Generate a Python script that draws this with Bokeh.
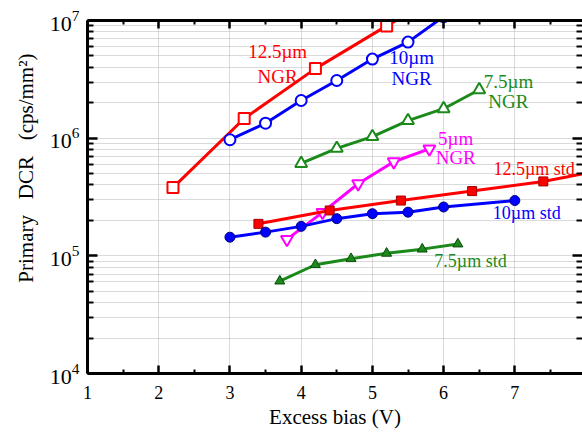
from bokeh.plotting import figure
from bokeh.models import LinearAxis, LogAxis, FixedTicker, Label
from bokeh.embed import file_html
from bokeh.resources import INLINE

# ---------------- data ----------------
x_ngr125 = [2.2, 3.2, 4.2, 5.2, 6.2]
y_ngr125 = [3.8e5, 1.47e6, 3.9e6, 9.0e6, 2.0e7]

x_ngr10 = [3.0, 3.5, 4.0, 4.5, 5.0, 5.5, 6.0]
y_ngr10 = [9.7e5, 1.34e6, 2.09e6, 3.09e6, 4.7e6, 6.55e6, 1.08e7]

x_ngr75 = [4.0, 4.5, 5.0, 5.5, 6.0, 6.5]
y_ngr75 = [6.1e5, 8.2e5, 1.03e6, 1.41e6, 1.78e6, 2.58e6]

x_ngr5 = [3.8, 4.3, 4.8, 5.3, 5.8]
y_ngr5 = [1.38e5, 2.34e5, 4.1e5, 6.3e5, 8.1e5]

x_std125 = [3.4, 4.4, 5.4, 6.4, 7.4, 8.4]
y_std125 = [1.87e5, 2.43e5, 2.95e5, 3.55e5, 4.29e5, 5.6e5]

x_std10 = [3.0, 3.5, 4.0, 4.5, 5.0, 5.5, 6.0, 7.0]
y_std10 = [1.44e5, 1.59e5, 1.78e5, 2.07e5, 2.28e5, 2.35e5, 2.6e5, 2.95e5]

x_std75 = [3.7, 4.2, 4.7, 5.2, 5.7, 6.2]
y_std75 = [6.1e4, 8.4e4, 9.45e4, 1.05e5, 1.14e5, 1.26e5]

x_ticks = [1, 2, 3, 4, 5, 6, 7, 8]
y_ticks = [1e4, 1e5, 1e6, 1e7]

label_text = ["12.5µm", "NGR", "10µm", "NGR", "7.5µm", "NGR", "5µm", "NGR",
              "12.5µm std", "10µm std", "7.5µm std"]
label_x = [3.67, 3.67, 5.55, 5.55, 6.91, 6.91, 6.17, 6.17, 6.70, 6.69, 5.87]
label_y = [5.4e6, 3.35e6, 4.85e6, 3.21e6, 3.03e6, 2.05e6, 9.9e5, 6.86e5, 5.42e5, 2.29e5, 9.1e4]

RED = "#ff0000"
BLUE = "#0000ff"
GREEN = "#1b8a1b"
MAGENTA = "#ff00ff"
label_color = [RED, RED, BLUE, BLUE, GREEN, GREEN, MAGENTA, MAGENTA, RED, BLUE, GREEN]
label_align = ["center"] * 8 + ["left"] * 3
label_size = ["19px"] * 8 + ["18px"] * 3

FONT = "Liberation Serif"

p = figure(width=582, height=432, output_backend="svg", toolbar_location=None,
           x_range=(1, 7.95), y_range=(1e4, 1e7), y_axis_type="log",
           min_border_left=87, min_border_right=0, min_border_top=20, min_border_bottom=59)
p.outline_line_color = None
p.background_fill_color = "white"

x_minor = [t + 0.5 for t in x_ticks]
y_minor = [d * k for d in y_ticks[:-1] for k in range(2, 10)]

# extra axes (top/right)
p.add_layout(LinearAxis(), "above")
p.add_layout(LogAxis(), "right")

for ax in p.xaxis:
    ax.ticker = FixedTicker(ticks=x_ticks, minor_ticks=x_minor)
    ax.major_tick_in = 8
    ax.major_tick_out = 0
    ax.minor_tick_in = 4
    ax.minor_tick_out = 0
for ax in p.yaxis:
    ax.ticker = FixedTicker(ticks=y_ticks, minor_ticks=y_minor)
    ax.major_tick_in = 10
    ax.major_tick_out = 0
    ax.minor_tick_in = 6
    ax.minor_tick_out = 0
for ax in list(p.xaxis) + list(p.yaxis):
    ax.axis_line_width = 3
    ax.axis_line_color = "black"
    ax.major_tick_line_width = 2.5
    ax.minor_tick_line_width = 2
    ax.major_tick_line_color = "black"
    ax.minor_tick_line_color = "black"
    ax.major_label_text_font = FONT
    ax.major_label_text_color = "black"

bottom = p.below[0]
bottom.major_label_text_font_size = "18px"
bottom.major_label_standoff = 12
bottom.axis_label = "Excess bias (V)"
bottom.axis_label_text_font = FONT
bottom.axis_label_text_font_size = "21px"
bottom.axis_label_text_font_style = "normal"
bottom.axis_label_text_color = "black"
bottom.axis_label_standoff = 3

left = p.left[0]
left.major_label_text_font_size = "22px"
left.major_label_standoff = 8
left.axis_label = "\u00a0" * 11 + "Primary\u00a0\u00a0\u00a0DCR\u00a0\u00a0\u00a0(cps/mm²)"
left.axis_label_text_font = FONT
left.axis_label_text_font_size = "21px"
left.axis_label_text_font_style = "normal"
left.axis_label_text_color = "black"
left.axis_label_standoff = 9

for ax in (p.above[0], p.right[0]):
    ax.major_label_text_font_size = "0px"
    ax.major_label_standoff = 0
    ax.major_label_text_color = None

p.right[0].axis_line_color = None

# grid
for g in (p.xgrid, p.ygrid):
    g.grid_line_color = "#b4b4b4"
    g.grid_line_dash = "1 1"
    g.grid_line_width = 1
p.ygrid.minor_grid_line_color = "#b4b4b4"
p.ygrid.minor_grid_line_dash = "1 1"
p.ygrid.minor_grid_line_width = 1

# series
LW = 3
p.line(x_ngr125, y_ngr125, line_color=RED, line_width=LW)
p.scatter(x_ngr125, y_ngr125, marker="square", size=11, fill_color="white", line_color=RED, line_width=2)

p.line(x_ngr10, y_ngr10, line_color=BLUE, line_width=LW)
p.scatter(x_ngr10, y_ngr10, marker="circle", size=11, fill_color="white", line_color=BLUE, line_width=2)

p.line(x_ngr75, y_ngr75, line_color=GREEN, line_width=LW)
p.scatter(x_ngr75, y_ngr75, marker="triangle", size=12, fill_color="white", line_color=GREEN, line_width=2)

p.line(x_ngr5, y_ngr5, line_color=MAGENTA, line_width=LW)
p.scatter(x_ngr5, y_ngr5, marker="inverted_triangle", size=12, fill_color="white", line_color=MAGENTA, line_width=2)

p.line(x_std125, y_std125, line_color=RED, line_width=LW)
p.scatter(x_std125, y_std125, marker="square", size=9, fill_color=RED, line_color="#a00000", line_width=1)

p.line(x_std10, y_std10, line_color=BLUE, line_width=LW)
p.scatter(x_std10, y_std10, marker="circle", size=10, fill_color=BLUE, line_color="#000080", line_width=1)

p.line(x_std75, y_std75, line_color=GREEN, line_width=LW)
p.scatter(x_std75, y_std75, marker="triangle", size=10, fill_color=GREEN, line_color="#0b4a0b", line_width=1)

for t, x, y, c, a, s in zip(label_text, label_x, label_y, label_color, label_align, label_size):
    p.add_layout(Label(x=x, y=y, text=t, text_color=c, text_align=a, text_baseline="middle",
                       text_font=FONT, text_font_size=s))

open("out.html", "w").write(file_html(p, INLINE))
